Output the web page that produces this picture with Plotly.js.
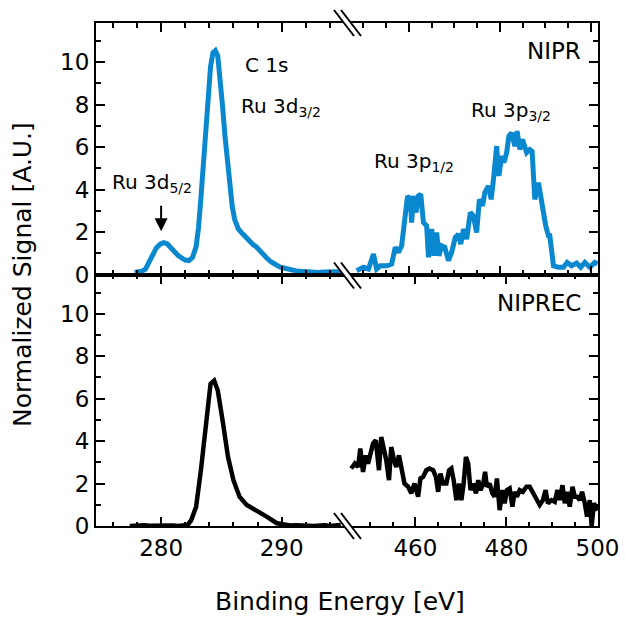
<!DOCTYPE html>
<html><head><meta charset="utf-8">
<script src="https://cdn.plot.ly/plotly-3.0.1.min.js"></script>
<style>html,body{margin:0;padding:0;background:#fff}#plot{width:625px;height:617px}</style>
</head><body><div id="plot"></div>
<script>
// NIPR, C 1s / Ru 3d region
const niprC_E = [277.8,278.1,278.4,278.7,279.0,279.3,279.6,279.9,280.2,280.5,280.8,281.1,281.4,281.7,282.0,282.3,282.6,282.9,283.1,283.3,283.5,283.7,283.9,284.1,284.3,284.5,284.7,284.9,285.1,285.3,285.5,285.7,285.9,286.1,286.4,286.7,287.0,287.3,287.6,287.9,288.2,288.5,288.8,289.1,289.4,289.7,290.0,290.4,290.8,291.2,291.6,292.0,292.5,293.0,293.5,294.0,294.5,295.0,295.4];
const niprC_S = [0.10,0.12,0.15,0.25,0.55,0.95,1.25,1.42,1.50,1.45,1.25,1.05,0.90,0.78,0.68,0.65,0.80,1.30,2.20,3.60,5.30,7.00,8.60,9.80,10.45,10.55,10.30,9.30,7.90,6.50,5.20,4.10,3.20,2.60,2.15,1.95,1.75,1.60,1.42,1.30,1.10,0.90,0.75,0.60,0.48,0.40,0.33,0.26,0.20,0.17,0.15,0.12,0.11,0.10,0.12,0.10,0.13,0.12,0.14];
// NIPR, Ru 3p region
const niprP_E = [448.5,450.0,451.1,452.2,452.9,453.7,455.1,456.2,457.0,457.7,458.4,459.2,459.7,460.3,460.6,461.0,461.6,462.1,462.6,463.2,463.9,464.3,465.0,465.5,466.1,466.6,467.2,467.9,468.7,469.4,470.2,470.9,471.4,472.0,472.7,473.5,474.2,474.9,475.5,476.2,476.7,477.5,478.1,478.6,479.3,479.8,480.4,480.9,481.5,482.0,482.6,483.3,483.8,484.4,485.0,485.9,486.6,487.1,487.5,487.7,488.5,489.0,489.6,490.1,490.7,491.0,491.8,492.9,494.0,494.8,495.8,496.9,497.8,498.7,499.8,500.9,501.5];
const niprP_S = [0.18,0.34,0.26,0.96,0.26,0.41,0.41,0.49,1.28,1.04,1.35,2.76,3.70,3.54,2.45,3.70,2.92,3.70,3.78,2.45,2.29,0.81,2.14,0.88,1.98,0.88,1.35,1.28,0.65,1.04,1.75,1.90,1.43,2.14,1.67,2.92,2.76,1.98,3.54,3.23,3.86,4.17,3.54,4.48,6.05,4.64,5.58,5.27,5.74,6.52,6.68,6.05,6.75,5.89,6.36,5.74,5.89,5.81,4.33,3.54,4.33,3.54,2.92,2.29,1.82,1.82,0.41,0.34,0.34,0.57,0.41,0.54,0.34,0.57,0.34,0.57,0.49];
// NIPREC, C 1s / Ru 3d region
const niprecC_E = [277.4,277.8,278.2,278.6,279.0,279.4,279.8,280.2,280.6,281.0,281.4,281.8,282.2,282.5,282.9,283.3,283.75,284.1,284.4,284.7,285.1,285.55,286.0,286.5,287.1,287.9,288.75,289.6,290.2,290.7,291.2,291.7,292.2,292.7,293.2,293.6,294.0,294.5,294.9];
const niprecC_S = [0.00,0.02,0.00,0.03,0.01,0.02,0.00,0.03,0.01,0.02,0.00,0.02,0.05,0.28,0.90,2.63,5.13,6.70,6.85,6.38,4.98,3.25,2.16,1.38,0.99,0.75,0.44,0.13,0.05,0.02,0.04,0.01,0.03,0.00,0.02,0.04,0.00,0.03,0.05];
// NIPREC, Ru 3p region
const niprecP_E = [445.9,446.7,447.4,447.9,448.5,449.1,449.6,450.1,450.7,451.3,452.0,452.5,453.1,453.6,454.2,454.7,455.3,455.8,456.4,456.9,457.6,458.4,459.1,459.8,460.6,461.1,461.7,462.4,463.1,463.9,464.5,465.0,465.5,466.1,466.8,467.4,467.9,468.4,469.0,469.6,470.1,470.6,471.1,471.6,472.1,472.7,473.3,473.8,474.3,474.9,475.3,475.7,476.3,476.9,477.4,477.9,478.5,479.1,479.6,480.1,480.7,481.3,481.8,482.3,482.9,483.6,484.4,485.1,485.8,486.6,487.3,488.0,488.6,489.1,489.9,490.6,491.2,491.7,492.3,492.8,493.3,493.9,494.5,495.0,495.5,496.1,496.6,497.2,497.7,498.3,498.7,499.2,499.8,500.4];
const niprecP_S = [2.71,2.94,2.78,3.65,2.55,3.33,2.94,3.33,3.88,4.04,2.63,4.19,3.57,3.10,2.16,3.72,3.10,2.78,3.33,2.63,2.00,1.85,1.54,2.00,1.38,2.24,2.31,2.63,2.71,2.63,2.31,1.61,2.47,2.00,2.00,2.63,2.71,2.16,1.22,2.00,1.22,2.00,3.25,2.94,1.69,2.00,1.54,2.16,1.69,2.00,2.55,1.85,2.00,1.54,1.38,2.24,0.75,1.69,1.07,1.69,1.77,0.91,1.61,1.38,1.69,1.61,1.85,1.85,1.54,1.22,0.99,1.22,1.69,1.07,1.22,1.14,1.69,1.22,1.92,1.07,1.61,0.91,1.85,1.38,1.38,1.22,1.61,1.07,0.44,1.22,0.00,1.07,0.83,0.91];

const leftTicks = [280, 290];
const rightTicks = [460, 480, 500];
const yTicks = [0, 2, 4, 6, 8, 10];

const BLUE = 'rgb(10,136,207)';
const FONT = 'DejaVu Sans, Liberation Sans, sans-serif';

const traces = [
  {x: niprC_E, y: niprC_S, xaxis: 'x', yaxis: 'y', mode: 'lines', line: {color: BLUE, width: 5}},
  {x: niprP_E, y: niprP_S, xaxis: 'x2', yaxis: 'y2', mode: 'lines', line: {color: BLUE, width: 5}},
  {x: niprecC_E, y: niprecC_S, xaxis: 'x3', yaxis: 'y3', mode: 'lines', line: {color: '#000', width: 4.5}},
  {x: niprecP_E, y: niprecP_S, xaxis: 'x4', yaxis: 'y4', mode: 'lines', line: {color: '#000', width: 4.5}}
];

const LW = 2;
function xax(domain, range, tickvals, anchor, labels, minorDt) {
  return {domain, range, anchor, tickmode: 'array', tickvals, ticktext: tickvals.map(String),
    showticklabels: labels, ticks: 'inside', ticklen: 9, tickwidth: 2, tickcolor: '#000',
    minor: {dtick: minorDt, tick0: 0, ticks: 'inside', ticklen: 4.5, tickwidth: 2, tickcolor: '#000', showgrid: false},
    showline: true, linecolor: '#000', linewidth: LW, mirror: 'ticks', showgrid: false, zeroline: false,
    tickfont: {family: FONT, size: 23, color: '#000'}, fixedrange: true};
}
function yax(domain, anchor, side, labels) {
  return {domain, anchor, side, range: [0, 11.85], tickmode: 'array', tickvals: yTicks, ticktext: yTicks.map(String),
    showticklabels: labels, ticks: 'inside', ticklen: 9, tickwidth: 2, tickcolor: '#000',
    minor: {dtick: 1, tick0: 0, ticks: 'inside', ticklen: 5, tickwidth: 2, tickcolor: '#000', showgrid: false},
    showline: true, linecolor: '#000', linewidth: LW, showgrid: false, zeroline: false,
    tickfont: {family: FONT, size: 23, color: '#000'}, fixedrange: true};
}
const XB = 0.502;
const layout = {
  width: 625, height: 617, margin: {l: 96, r: 27, t: 23, b: 91},
  paper_bgcolor: '#fff', plot_bgcolor: '#fff', showlegend: false,
  font: {family: FONT, color: '#000'},
  xaxis: xax([0, XB], [274.6, 295.5], leftTicks, 'y', false, 2),
  xaxis2: xax([XB, 1], [446.6, 501.6], rightTicks, 'y2', false, 5),
  xaxis3: xax([0, XB], [274.6, 295.5], leftTicks, 'y3', true, 2),
  xaxis4: xax([XB, 1], [445.2, 500.1], rightTicks, 'y4', true, 5),
  yaxis: yax([0.5, 1], 'x', 'left', true),
  yaxis2: yax([0.5, 1], 'x2', 'right', false),
  yaxis3: yax([0, 0.5], 'x3', 'left', true),
  yaxis4: yax([0, 0.5], 'x4', 'right', false),
  annotations: [
    {text: 'C 1s', xref: 'x', yref: 'y', x: 286.8, y: 9.88, xanchor: 'left', yanchor: 'middle', showarrow: false, font: {size: 20}},
    {text: 'Ru 3d<sub>3/2</sub>', xref: 'x', yref: 'y', x: 286.5, y: 7.9, xanchor: 'left', yanchor: 'middle', showarrow: false, font: {size: 20}},
    {text: 'Ru 3d<sub>5/2</sub>', xref: 'x', yref: 'y', x: 275.8, y: 4.3, xanchor: 'left', yanchor: 'middle', showarrow: false, font: {size: 20}},
    {text: ' ', xref: 'x', yref: 'y', x: 280, y: 2.04, ax: 0, ay: -34, showarrow: true, arrowhead: 2, arrowsize: 1.3, arrowwidth: 2, arrowcolor: '#000'},
    {text: 'Ru 3p<sub>1/2</sub>', xref: 'x2', yref: 'y2', x: 451.9, y: 5.3, xanchor: 'left', yanchor: 'middle', showarrow: false, font: {size: 20}},
    {text: 'Ru 3p<sub>3/2</sub>', xref: 'x2', yref: 'y2', x: 473.2, y: 7.7, xanchor: 'left', yanchor: 'middle', showarrow: false, font: {size: 20}},
    {text: 'NIPR', xref: 'x2', yref: 'y2', x: 498.3, y: 10.54, xanchor: 'right', yanchor: 'middle', showarrow: false, font: {size: 23}},
    {text: 'NIPREC', xref: 'x4', yref: 'y4', x: 496.8, y: 10.5, xanchor: 'right', yanchor: 'middle', showarrow: false, font: {size: 23}},
    {text: 'Binding Energy [eV]', xref: 'paper', yref: 'paper', x: 0.487, y: (526 - 601) / 503, xanchor: 'center', yanchor: 'middle', showarrow: false, font: {size: 25}},
    {text: 'Normalized Signal [A.U.]', xref: 'paper', yref: 'paper', x: (22 - 96) / 502, y: (526 - 275) / 503, xanchor: 'center', yanchor: 'middle', textangle: -90, showarrow: false, font: {size: 25}}
  ],
  shapes: []
};
// axis-break marks (decoration, pixel positions converted to paper)
function px2x(p) { return (p - 96) / 502; }
function px2y(p) { return (526 - p) / 503; }
[23, 275.5, 526].forEach(function (yc) {
  const x0 = 344, dx = 7, hw = 10, hh = 13;
  layout.shapes.push({type: 'path', xref: 'paper', yref: 'paper', layer: 'above',
    path: 'M ' + px2x(x0 - hw) + ' ' + px2y(yc - hh) + ' L ' + px2x(x0 + dx - hw) + ' ' + px2y(yc - hh) +
      ' L ' + px2x(x0 + dx + hw) + ' ' + px2y(yc + hh) + ' L ' + px2x(x0 + hw) + ' ' + px2y(yc + hh) + ' Z',
    fillcolor: '#fff', line: {width: 0}});
  [0, dx].forEach(function (o) {
    layout.shapes.push({type: 'line', xref: 'paper', yref: 'paper', layer: 'above',
      x0: px2x(x0 + o - hw), y0: px2y(yc - hh), x1: px2x(x0 + o + hw), y1: px2y(yc + hh),
      line: {color: '#000', width: 2}});
  });
});
Plotly.newPlot('plot', traces, layout, {staticPlot: true, displayModeBar: false});
</script></body></html>
